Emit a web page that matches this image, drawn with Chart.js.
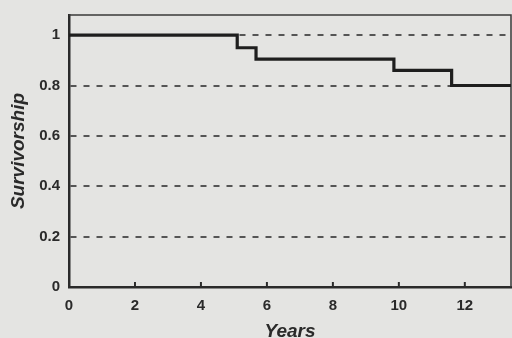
<!DOCTYPE html>
<html>
<head>
<meta charset="utf-8">
<script src="https://cdn.jsdelivr.net/npm/chart.js@4"></script>
<style>
  html, body { margin: 0; padding: 0; background: #e4e4e2; }
  #wrap { width: 512px; height: 338px; }
</style>
</head>
<body>
<div id="wrap"><canvas id="grafico" width="512" height="338"></canvas></div>
<script>
// datos (curva de supervivencia escalonada)
const anios = [0, 5.1, 5.67, 9.85, 11.6, 13.4];
const supervivencia = [1, 0.95, 0.905, 0.86, 0.8, 0.8];

// marcas de los ejes
const ticksX = [0, 2, 4, 6, 8, 10, 12];
const ticksY = [0, 0.2, 0.4, 0.6, 0.8, 1];

const tinta = '#2a2a2a';
const fuente = 'Liberation Sans, Arial, sans-serif';

// borde fino arriba y a la derecha + marcas hacia dentro en el eje x
const marcoPlugin = {
    id: 'marco',
    beforeDatasetsDraw(chart) {
        const ctx = chart.ctx;
        const a = chart.chartArea;
        ctx.save();
        ctx.strokeStyle = '#3a3a3a';
        ctx.lineWidth = 1.5;
        ctx.beginPath();
        ctx.moveTo(a.left, a.top);
        ctx.lineTo(a.right, a.top);
        ctx.lineTo(a.right, a.bottom);
        ctx.stroke();

        const sx = chart.scales.x;
        ctx.strokeStyle = tinta;
        ctx.lineWidth = 2;
        ticksX.forEach(function (v) {
            if (v === 0) return;
            const px = sx.getPixelForValue(v);
            ctx.beginPath();
            ctx.moveTo(px, a.bottom);
            ctx.lineTo(px, a.bottom - 5);
            ctx.stroke();
        });
        ctx.restore();
    }
};

new Chart(document.getElementById('grafico'), {
    type: 'line',
    data: {
        datasets: [{
            data: anios.map((x, i) => ({ x: x, y: supervivencia[i] })),
            stepped: 'before',
            borderColor: '#1e1e1e',
            borderWidth: 3.2,
            pointRadius: 0,
            fill: false
        }]
    },
    options: {
        responsive: false,
        animation: false,
        layout: { padding: { top: 15, right: 1, left: 0, bottom: 0 } },
        plugins: {
            legend: { display: false },
            tooltip: { enabled: false }
        },
        scales: {
            x: {
                type: 'linear',
                min: 0,
                max: 13.4,
                afterBuildTicks: s => { s.ticks = ticksX.map(v => ({ value: v })); },
                afterFit: s => { s.height = 51; s.paddingLeft = 0; s.paddingRight = 0; },
                grid: { display: false, drawTicks: false },
                border: { display: true, color: tinta, width: 2.5 },
                ticks: {
                    padding: 10,
                    color: tinta,
                    font: { family: fuente, size: 15, weight: 'bold' },
                    maxRotation: 0,
                    callback: v => String(v)
                },
                title: {
                    display: true,
                    text: 'Years',
                    color: tinta,
                    font: { family: fuente, size: 19, weight: 'bold', style: 'italic', lineHeight: 1 },
                    padding: { top: 0, bottom: -3 }
                }
            },
            y: {
                min: 0,
                max: 1.08,
                afterBuildTicks: s => { s.ticks = ticksY.map(v => ({ value: v })); },
                afterFit: s => { s.width = 69; s.paddingTop = 0; s.paddingBottom = 0; },
                grid: {
                    drawTicks: false,
                    color: ctx => (ctx.tick && ctx.tick.value === 0) ? 'rgba(0,0,0,0)' : '#555555',
                    lineWidth: 2
                },
                border: { display: true, color: tinta, width: 2.5, dash: [6, 7] },
                ticks: {
                    padding: 9,
                    color: tinta,
                    font: { family: fuente, size: 15, weight: 'bold' },
                    callback: v => String(+v.toFixed(1))
                },
                title: {
                    display: true,
                    text: 'Survivorship',
                    color: tinta,
                    font: { family: fuente, size: 19, weight: 'bold', style: 'italic', lineHeight: 1 },
                    padding: { top: 9, bottom: 0 }
                }
            }
        }
    },
    plugins: [marcoPlugin]
});
</script>
</body>
</html>
